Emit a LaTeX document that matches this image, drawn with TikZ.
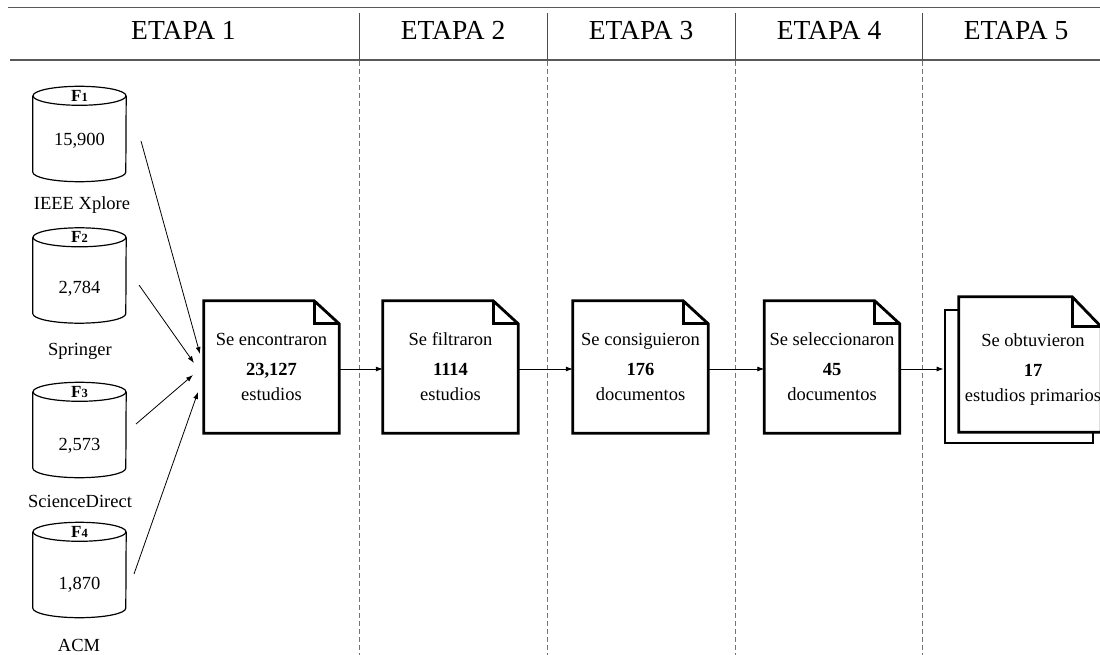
\documentclass[tikz,border=0pt]{standalone}
\usepackage{fontspec}
\setmainfont{Liberation Serif}
\usetikzlibrary{arrows.meta}

% outline of a document with a folded top-right corner, drawn on a named node
\newcommand\foldeddoc[3]{%
  \draw[docline] (#1.north west) -- ([xshift=-#2]#1.north east)
     -- ([yshift=-#3]#1.north east) -- (#1.south east) -- (#1.south west) -- cycle;
  \draw[docline] ([xshift=-#2]#1.north east) |- ([yshift=-#3]#1.north east);}

% database cylinder drawn around a named body node
\newcommand\dbcylinder[1]{%
  \draw[cyl] (#1.north west) -- (#1.south west)
     arc[start angle=180, end angle=360, x radius=46.5pt, y radius=9.5pt]
     -- (#1.north east);
  \draw[cyl] (#1.north) ellipse[x radius=46.5pt, y radius=9.5pt];}

\begin{document}
\begin{tikzpicture}[x=1pt,y=-1pt,
  headtext/.style={font=\fontsize{27.5}{30}\selectfont, inner sep=0pt, anchor=base},
  rule/.style={draw=black!65, line width=1.4pt},
  sep/.style={draw=black!70, line width=1pt},
  sepdash/.style={draw=black!55, line width=1pt, dash pattern=on 5pt off 3pt},
  dbbody/.style={minimum width=93pt, minimum height=76pt, inner sep=0pt},
  cyl/.style={draw=black, line width=1.2pt},
  dbname/.style={font=\bfseries\fontsize{17}{17}\selectfont, inner sep=0pt, anchor=base},
  dbval/.style={font=\fontsize{18.5}{20}\selectfont, inner sep=0pt, anchor=base},
  docbox/.style={minimum width=135pt, minimum height=132pt, inner sep=0pt,
    align=center, font=\fontsize{18.5}{25}\selectfont},
  doctext/.style={inner sep=0pt, align=center, font=\fontsize{18.5}{25}\selectfont},
  docline/.style={draw=black, line width=2.8pt, line join=miter},
  flow/.style={draw=black, line width=0.8pt, -{Latex[length=7pt,width=5pt]}},
]
\useasboundingbox (0,0) rectangle (1100,655);

% ---- header band ----
\draw[rule] (8,7.5) -- (1100,7.5);
\draw[rule] (10,60) -- (1100,60);
\foreach \sx in {359,547,735,922}{
  \draw[sep] (\sx,13) -- (\sx,60);
  \draw[sepdash] (\sx,61) -- (\sx,655);
}
\node[headtext] (h1) at (183.5,39.5) {ETAPA 1};
\node[headtext] (h2) at (453,39.5) {ETAPA 2};
\node[headtext] (h3) at (641,39.5) {ETAPA 3};
\node[headtext] (h4) at (829,39.5) {ETAPA 4};
\node[headtext] (h5) at (1016,39.5) {ETAPA 5};

% ---- sources ----
\node[dbbody] (db1) at (79.5,134) {};
\node[dbbody] (db2) at (79.5,275.5) {};
\node[dbbody] (db3) at (79.5,430) {};
\node[dbbody] (db4) at (79.5,570) {};
\dbcylinder{db1}
\dbcylinder{db2}
\dbcylinder{db3}
\dbcylinder{db4}

\node[dbname] (f1) at (79.5,101.5) {F{\fontsize{12.5}{12.5}\selectfont 1}};
\node[dbname] (f2) at (79.5,243) {F{\fontsize{12.5}{12.5}\selectfont 2}};
\node[dbname] (f3) at (79.5,397.5) {F{\fontsize{12.5}{12.5}\selectfont 3}};
\node[dbname] (f4) at (79.5,537.5) {F{\fontsize{12.5}{12.5}\selectfont 4}};

\node[dbval] (v1) at (79.5,146) {15,900};
\node[dbval] (v2) at (79.5,293) {2,784};
\node[dbval] (v3) at (79.5,450) {2,573};
\node[dbval] (v4) at (79.5,589) {1,870};

\node[dbval] (n1) at (82,210) {IEEE Xplore};
\node[dbval] (n2) at (80,355) {Springer};
\node[dbval] (n3) at (80,507) {ScienceDirect};
\node[dbval] (n4) at (79,651) {ACM};

% ---- document stages ----
\node[docbox] (d1) at (271.5,367) {Se encontraron\\[5pt]\textbf{23,127}\\estudios};
\node[docbox] (d2) at (450.5,367) {Se filtraron\\[5pt]\textbf{1114}\\estudios};
\node[docbox] (d3) at (640.5,367) {Se consiguieron\\[5pt]\textbf{176}\\documentos};
\node[docbox] (d4) at (832,367) {Se seleccionaron\\[5pt]\textbf{45}\\documentos};
\foldeddoc{d1}{25pt}{23pt}
\foldeddoc{d2}{25pt}{23pt}
\foldeddoc{d3}{25pt}{23pt}
\foldeddoc{d4}{25pt}{23pt}

% stacked documents of the last stage
\node[minimum width=148pt, minimum height=133pt, inner sep=0pt, docline] (d5b) at (1019,376.5) {};
\node[fill=white, minimum width=142pt, minimum height=135pt, inner sep=0pt] (d5) at (1030,364.5) {};
\foldeddoc{d5}{29pt}{30pt}
\node[doctext] (t5) at (1033,370) {Se obtuvieron\\[5pt]\textbf{17}\\estudios primarios};

% ---- connectors ----
\coordinate (s1) at (141,141);
\coordinate (s2) at (139,285);
\coordinate (s3) at (136,424);
\coordinate (s4) at (134,574);
\coordinate (e1) at (200,354);
\coordinate (e2) at (194,363);
\coordinate (e3) at (193,375);
\coordinate (e4) at (198,392);
\draw[flow] (s1) -- (e1);
\draw[flow] (s2) -- (e2);
\draw[flow] (s3) -- (e3);
\draw[flow] (s4) -- (e4);

\draw[flow] ([yshift=-2pt]d1.east) -- ([yshift=-2pt]d2.west);
\draw[flow] ([yshift=-2pt]d2.east) -- ([yshift=-2pt]d3.west);
\draw[flow] ([yshift=-2pt]d3.east) -- ([yshift=-2pt]d4.west);
\draw[flow] ([yshift=-2pt]d4.east) -- ([yshift=-2pt]d4.east -| d5b.west);
\end{tikzpicture}
\end{document}
